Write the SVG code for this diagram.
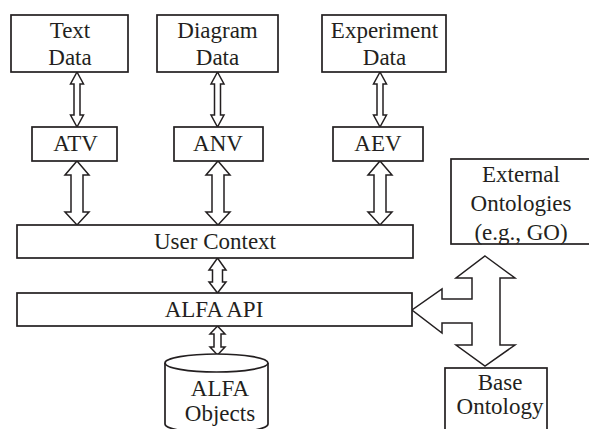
<svg xmlns="http://www.w3.org/2000/svg" width="589" height="429" viewBox="0 0 589 429">
<style>
.box{fill:#fff;stroke:#231f20;stroke-width:1.7}
.arr{fill:#fff;stroke:#231f20;stroke-width:1.5;stroke-linejoin:miter}
#nodes text{font-family:'Liberation Serif',serif !important;font-size:23px;fill:#231f20;text-anchor:middle}
</style>
<rect width="589" height="429" fill="#fff"/>
<g id="connectors">
<polygon class="arr" points="77,72 83.5,84 80,84 80,115 83.5,115 77,127 70.5,115 74,115 74,84 70.5,84"/>
<polygon class="arr" points="217.5,72 224,84 220.5,84 220.5,115 224,115 217.5,127 211,115 214.5,115 214.5,84 211,84"/>
<polygon class="arr" points="380,72 386.5,84 383,84 383,115 386.5,115 380,127 373.5,115 377,115 377,84 373.5,84"/>
<polygon class="arr" points="77,161 89,175 83,175 83,212 89,212 77,225 65,212 71,212 71,175 65,175"/>
<polygon class="arr" points="218,161 230,175 224,175 224,212 230,212 218,225 206,212 212,212 212,175 206,175"/>
<polygon class="arr" points="380,161 392,175 386,175 386,212 392,212 380,225 368,212 374,212 374,175 368,175"/>
<polygon class="arr" points="217.5,258 226,270 222.5,270 222.5,282 226,282 217.5,293 209,282 212.5,282 212.5,270 209,270"/>
<polygon class="arr" points="217.5,326 225,334 221,334 221,347 225,347 217.5,355 210,347 214,347 214,334 210,334"/>
<polygon class="arr" points="485,256 515,278 500,278 500,345 515,345 485,366 456,345 472,345 472,323 442,323 442,333 412,310 442,289 442,299 472,299 472,278 456,278"/>
</g>
<g id="nodes" font-family="'Liberation Serif', serif" font-size="23" fill="#231f20" text-anchor="middle">
<g id="text-data">
<rect class="box" x="11" y="15" width="117" height="57"/>
<text x="70" y="38" style="font-family:'Liberation Serif',serif">Text</text>
<text x="70" y="65" style="font-family:'Liberation Serif',serif">Data</text>
</g>
<g id="diagram-data">
<rect class="box" x="157" y="15" width="121" height="57"/>
<text x="217.5" y="38" style="font-family:'Liberation Serif',serif">Diagram</text>
<text x="217.5" y="65" style="font-family:'Liberation Serif',serif">Data</text>
</g>
<g id="experiment-data">
<rect class="box" x="322" y="15" width="124" height="57"/>
<text x="384.5" y="38" style="font-family:'Liberation Serif',serif">Experiment</text>
<text x="384.5" y="65" style="font-family:'Liberation Serif',serif">Data</text>
</g>
<g id="atv">
<rect class="box" x="32" y="127" width="85" height="34"/>
<text x="75.5" y="151" style="font-family:'Liberation Serif',serif">ATV</text>
</g>
<g id="anv">
<rect class="box" x="174" y="127" width="89" height="34"/>
<text x="218" y="151" style="font-family:'Liberation Serif',serif">ANV</text>
</g>
<g id="aev">
<rect class="box" x="333" y="127" width="90" height="34"/>
<text x="378" y="151" style="font-family:'Liberation Serif',serif">AEV</text>
</g>
<g id="external-ontologies">
<rect class="box" x="451" y="159" width="145" height="85"/>
<text x="521" y="182" style="font-family:'Liberation Serif',serif">External</text>
<text x="521" y="211" style="font-family:'Liberation Serif',serif">Ontologies</text>
<text x="521" y="240" style="font-family:'Liberation Serif',serif">(e.g., GO)</text>
</g>
<g id="user-context">
<rect class="box" x="17" y="225" width="396" height="33"/>
<text x="215" y="249" style="font-family:'Liberation Serif',serif">User Context</text>
</g>
<g id="alfa-api">
<rect class="box" x="17" y="293" width="395" height="33"/>
<text x="214" y="317" style="font-family:'Liberation Serif',serif">ALFA API</text>
</g>
<g id="alfa-objects">
<path class="box" d="M165,363 L165,424 A51.5,9 0 0 0 268,424 L268,363"/>
<ellipse class="box" cx="216.5" cy="363" rx="51.5" ry="9"/>
<text x="220" y="396" style="font-family:'Liberation Serif',serif">ALFA</text>
<text x="220" y="421" style="font-family:'Liberation Serif',serif">Objects</text>
</g>
<g id="base-ontology">
<rect class="box" x="445" y="368" width="102" height="70"/>
<text x="500" y="390" style="font-family:'Liberation Serif',serif">Base</text>
<text x="500" y="414" style="font-family:'Liberation Serif',serif">Ontology</text>
</g>
</g>
</svg>
